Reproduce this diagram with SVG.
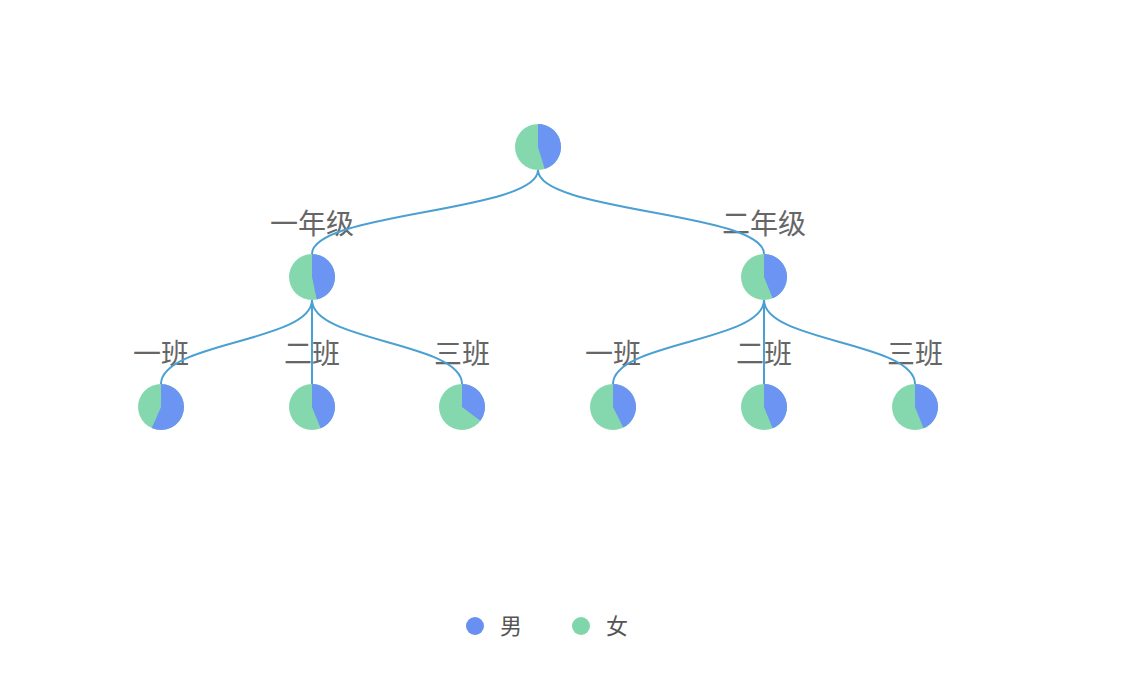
<svg xmlns="http://www.w3.org/2000/svg" width="1136" height="674" viewBox="0 0 1136 674">
<style>
.lbl{font-family:"Noto Sans CJK SC","Noto Sans",sans-serif;font-size:28px;fill:#666;text-anchor:middle}
.leg{font-family:"Noto Sans CJK SC","Noto Sans",sans-serif;font-size:22px;fill:#555}
.edge{fill:none;stroke:#4aa0d3;stroke-width:2}
.f{fill:#85d8ad}
.m{fill:#6c94f3}
</style>
<rect width="1136" height="674" fill="#fff"/>
<g id="labels">
<text class="lbl" x="312" y="234">一年级</text>
<text class="lbl" x="764" y="234">二年级</text>
<text class="lbl" x="161" y="364">一班</text>
<text class="lbl" x="312" y="364">二班</text>
<text class="lbl" x="462" y="364">三班</text>
<text class="lbl" x="613" y="364">一班</text>
<text class="lbl" x="764" y="364">二班</text>
<text class="lbl" x="915" y="364">三班</text>
</g>
<g id="connectors">
<path class="edge" d="M538,170 C538,212 312,212 312,254"/>
<path class="edge" d="M538,170 C538,212 764,212 764,254"/>
<path class="edge" d="M312,300 C312,342 161,342 161,384"/>
<path class="edge" d="M312,300 L312,384"/>
<path class="edge" d="M312,300 C312,342 462,342 462,384"/>
<path class="edge" d="M764,300 C764,342 613,342 613,384"/>
<path class="edge" d="M764,300 L764,384"/>
<path class="edge" d="M764,300 C764,342 915,342 915,384"/>
</g>
<g id="root">
<circle class="f" cx="538" cy="147" r="23"/>
<path class="m" d="M538,147 L538,124 A23,23 0 0,1 544.72,169 Z"/>
</g>
<g id="grade1">
<circle class="f" cx="312" cy="277" r="23"/>
<path class="m" d="M312,277 L312,254 A23,23 0 0,1 316.78,299.5 Z"/>
</g>
<g id="grade2">
<circle class="f" cx="764" cy="277" r="23"/>
<path class="m" d="M764,277 L764,254 A23,23 0 0,1 772.62,298.33 Z"/>
</g>
<g id="g1c1">
<circle class="f" cx="161" cy="407" r="23"/>
<path class="m" d="M161,407 L161,384 A23,23 0 1,1 151.79,428.08 Z"/>
</g>
<g id="g1c2">
<circle class="f" cx="312" cy="407" r="23"/>
<path class="m" d="M312,407 L312,384 A23,23 0 0,1 320.62,428.33 Z"/>
</g>
<g id="g1c3">
<circle class="f" cx="462" cy="407" r="23"/>
<path class="m" d="M462,407 L462,384 A23,23 0 0,1 480.37,420.84 Z"/>
</g>
<g id="g2c1">
<circle class="f" cx="613" cy="407" r="23"/>
<path class="m" d="M613,407 L613,384 A23,23 0 0,1 623.26,427.58 Z"/>
</g>
<g id="g2c2">
<circle class="f" cx="764" cy="407" r="23"/>
<path class="m" d="M764,407 L764,384 A23,23 0 0,1 772.62,428.33 Z"/>
</g>
<g id="g2c3">
<circle class="f" cx="915" cy="407" r="23"/>
<path class="m" d="M915,407 L915,384 A23,23 0 0,1 923.62,428.33 Z"/>
</g>
<g id="legend">
<circle cx="475" cy="626" r="9" fill="#6790f2"/>
<text class="leg" x="500" y="634">男</text>
<circle cx="581" cy="626" r="9" fill="#7fd6aa"/>
<text class="leg" x="606" y="634">女</text>
</g>
</svg>
